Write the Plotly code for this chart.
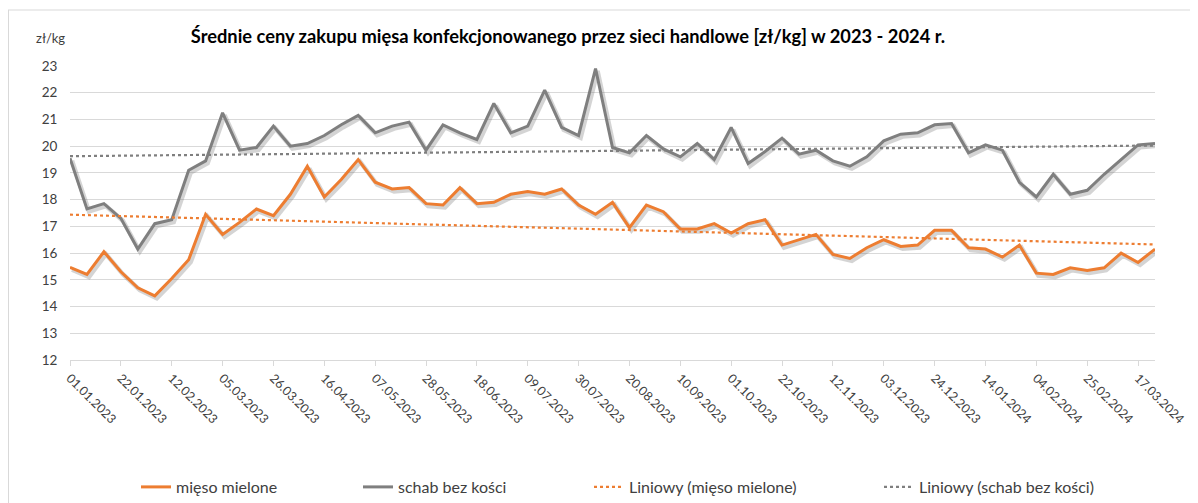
import numpy as np
import pandas as pd
import plotly.graph_objects as go

# ---- data ----
dates = list(pd.date_range("2023-01-01", periods=65, freq="7D").strftime("%d.%m.%Y"))
mieso_mielone = [15.47, 15.2, 16.05, 15.3, 14.7, 14.4, 15.05, 15.75, 17.45, 16.7,
                 17.15, 17.65, 17.4, 18.2, 19.25, 18.1, 18.75, 19.5, 18.65, 18.4,
                 18.45, 17.85, 17.8, 18.45, 17.85, 17.9, 18.2, 18.3, 18.2, 18.4,
                 17.8, 17.45, 17.9, 16.95, 17.8, 17.55, 16.9, 16.9, 17.1, 16.75,
                 17.1, 17.25, 16.3, 16.5, 16.7, 15.95, 15.8, 16.2, 16.5, 16.25,
                 16.3, 16.85, 16.85, 16.2, 16.15, 15.85, 16.3, 15.25, 15.2, 15.45,
                 15.35, 15.45, 16.0, 15.65, 16.15]
schab_bez_kosci = [19.55, 17.65, 17.85, 17.3, 16.15, 17.1, 17.25, 19.1, 19.45, 21.25,
                   19.85, 19.95, 20.75, 20.0, 20.1, 20.4, 20.8, 21.15, 20.5, 20.75,
                   20.9, 19.85, 20.8, 20.5, 20.25, 21.6, 20.5, 20.75, 22.1, 20.7,
                   20.4, 22.9, 19.95, 19.75, 20.4, 19.9, 19.6, 20.1, 19.5, 20.7,
                   19.35, 19.8, 20.3, 19.7, 19.85, 19.45, 19.25, 19.6, 20.2, 20.45,
                   20.5, 20.8, 20.85, 19.75, 20.05, 19.85, 18.65, 18.1, 18.95, 18.2,
                   18.35, 18.95, 19.5, 20.05, 20.1]
tick_step = 3
y_ticks = list(range(12, 24))

# ---- styling ----
ORANGE = "#ED7D31"
GREY = "#7F7F7F"
SHADOW = "rgba(120,120,120,0.32)"
FONT = "Lato, 'Open Sans', sans-serif"
TXT = "#404040"

idx = np.arange(len(dates))
# page body has an 8px margin: the figure is placed at (8, 8) in the window
OFF = 8
W, H = 1198 - OFF, 503 - OFF
PL, PR, PT, PB = 70, 1155, 66, 360          # plot area in window pixels
ML, MR, MT, MB = PL - OFF, W - (PR - OFF), PT - OFF, H - (PB - OFF)
PW, PH = W - ML - MR, H - MT - MB


def px2paper_x(px):
    return (px - PL) / PW


def px2paper_y(py):
    return (PB - py) / PH


fig = go.Figure()

series = [("mięso mielone", mieso_mielone, ORANGE, "legend"),
          ("schab bez kości", schab_bez_kosci, GREY, "legend2")]

# shadows
for name, vals, col, lg in series:
    fig.add_trace(go.Scatter(x=idx + 0.12, y=np.array(vals) - 0.09, mode="lines",
                             line=dict(color=SHADOW, width=4.5), showlegend=False,
                             hoverinfo="skip"))
# main lines
for name, vals, col, lg in series:
    fig.add_trace(go.Scatter(x=idx, y=vals, mode="lines", name=name,
                             line=dict(color=col, width=3), customdata=dates,
                             hovertemplate="%{customdata}: %{y}<extra></extra>",
                             legend=lg))
# linear trendlines
for (name, vals, col, lg), lg2 in zip(series, ["legend3", "legend4"]):
    a, b = np.polyfit(idx, vals, 1)
    xt = np.array([idx[0], idx[-1]])
    fig.add_trace(go.Scatter(x=xt, y=a * xt + b, mode="lines",
                             name=f"Liniowy ({name})",
                             line=dict(color=col, width=2.2, dash="dot"),
                             legend=lg2, hoverinfo="skip"))

legend_text_px = [177, 399, 630, 920]
legend_common = dict(orientation="h", yanchor="middle", xanchor="left",
                     font=dict(family=FONT, size=16, color=TXT),
                     bgcolor="rgba(0,0,0,0)", itemwidth=30)
legends = {}
for i, px in enumerate(legend_text_px):
    key = "legend" if i == 0 else f"legend{i+1}"
    legends[key] = dict(legend_common, x=px2paper_x(px - 41), y=px2paper_y(487))

fig.update_layout(
    width=W, height=H,
    margin=dict(l=ML, r=MR, t=MT, b=MB, autoexpand=False),
    paper_bgcolor="white", plot_bgcolor="white",
    font=dict(family=FONT, color=TXT),
    title=dict(text="<b>Średnie ceny zakupu mięsa konfekcjonowanego przez sieci handlowe [zł/kg] w 2023 - 2024 r.</b>",
               x=px2paper_x(568), xref="paper", xanchor="center",
               y=1 - (37 - OFF) / H, yanchor="middle",
               font=dict(family=FONT, size=18.3, color="#000000")),
    xaxis=dict(range=[idx[0], idx[-1]], tickmode="array",
               tickvals=list(idx[::tick_step]), ticktext=dates[::tick_step],
               tickangle=45, ticks="outside", ticklen=5, tickcolor="#D9D9D9",
               showgrid=False, showline=True, linecolor="#D9D9D9", linewidth=1,
               zeroline=False, tickfont=dict(family=FONT, size=12.5, color=TXT)),
    yaxis=dict(range=[12, 23], tickmode="array", tickvals=y_ticks,
               showgrid=True, gridcolor="#D9D9D9", gridwidth=1,
               zeroline=False, showline=False, ticks="outside", ticklen=9,
               tickcolor="rgba(0,0,0,0)",
               tickfont=dict(family=FONT, size=13.5, color=TXT)),
    showlegend=True,
    **legends,
)

fig.add_annotation(text="zł/kg", xref="paper", yref="paper",
                   x=px2paper_x(50), y=px2paper_y(38), showarrow=False,
                   xanchor="center", yanchor="middle",
                   font=dict(family=FONT, size=13, color=TXT))

# chart frame (top and left edges visible)
fig.add_shape(type="line", xref="paper", yref="paper",
              x0=px2paper_x(OFF), x1=px2paper_x(1210), y0=px2paper_y(10), y1=px2paper_y(10),
              line=dict(color="#D9D9D9", width=1))
fig.add_shape(type="line", xref="paper", yref="paper",
              x0=px2paper_x(OFF + 0.5), x1=px2paper_x(OFF + 0.5), y0=px2paper_y(10), y1=px2paper_y(510),
              line=dict(color="#D9D9D9", width=1))

fig.write_html("out.html")
